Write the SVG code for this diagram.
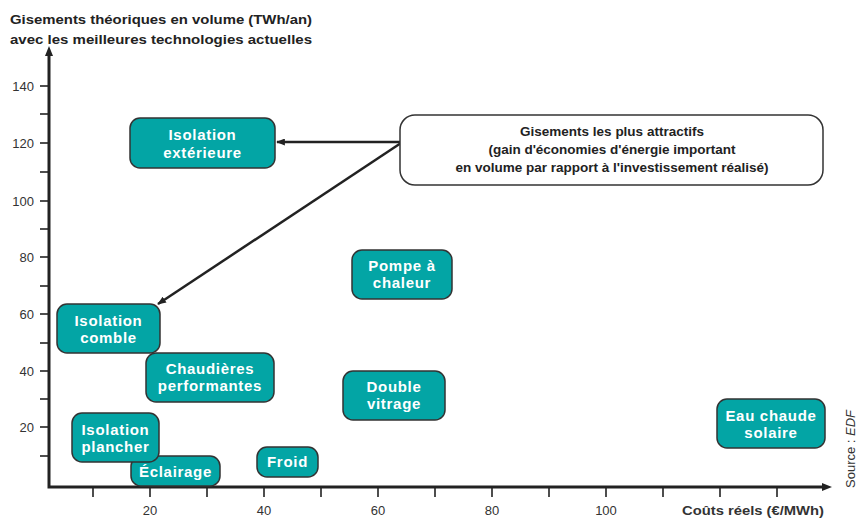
<svg xmlns="http://www.w3.org/2000/svg" width="859" height="518" viewBox="0 0 859 518">
<style>
.title{font-family:"Liberation Sans",Arial,sans-serif;font-weight:bold;font-size:13.5px;fill:#222}
.tick{font-family:"Liberation Sans",Arial,sans-serif;font-size:13px;fill:#333}
.axis{stroke:#222;stroke-width:3;fill:none}
.tk{stroke:#222;stroke-width:1.6}
.node rect{fill:#03A5A5;stroke:#333;stroke-width:1.5}
.node text{font-family:"Liberation Sans",Arial,sans-serif;font-weight:bold;font-size:15px;fill:#fff;text-anchor:middle;letter-spacing:0.7px}
.callout rect{fill:#fff;stroke:#333;stroke-width:1.5}
.callout text{font-family:"Liberation Sans",Arial,sans-serif;font-weight:bold;font-size:13.5px;fill:#222;text-anchor:middle}
.conn{stroke:#222;stroke-width:2.5;fill:none}
</style>
<defs>
<marker id="ah" viewBox="0 0 10 8" refX="9" refY="4" markerWidth="9" markerHeight="7" markerUnits="userSpaceOnUse" orient="auto">
<path d="M0,0 L10,4 L0,8 z" fill="#222"/>
</marker>
</defs>

<g id="title">
<text class="title" x="10" y="24" textLength="302" lengthAdjust="spacingAndGlyphs">Gisements théoriques en volume (TWh/an)</text>
<text class="title" x="10" y="44" textLength="302" lengthAdjust="spacingAndGlyphs">avec les meilleures technologies actuelles</text>
</g>

<g id="axes">
<path class="axis" d="M49,52 L49,487 L824,487"/>
<path d="M49,46 L45,56 L53,56 z" fill="#222"/>
<path d="M832,487 L822,483 L822,491 z" fill="#222"/>
<g class="tk">
<line x1="40" y1="86" x2="49" y2="86"/>
<line x1="40" y1="114" x2="49" y2="114"/>
<line x1="40" y1="143" x2="49" y2="143"/>
<line x1="40" y1="172" x2="49" y2="172"/>
<line x1="40" y1="201" x2="49" y2="201"/>
<line x1="40" y1="229" x2="49" y2="229"/>
<line x1="40" y1="257" x2="49" y2="257"/>
<line x1="40" y1="286" x2="49" y2="286"/>
<line x1="40" y1="314" x2="49" y2="314"/>
<line x1="40" y1="343" x2="49" y2="343"/>
<line x1="40" y1="371" x2="49" y2="371"/>
<line x1="40" y1="399" x2="49" y2="399"/>
<line x1="40" y1="427" x2="49" y2="427"/>
<line x1="40" y1="456" x2="49" y2="456"/>
<line x1="93" y1="487" x2="93" y2="497"/>
<line x1="150" y1="487" x2="150" y2="497"/>
<line x1="207" y1="487" x2="207" y2="497"/>
<line x1="264" y1="487" x2="264" y2="497"/>
<line x1="321" y1="487" x2="321" y2="497"/>
<line x1="378" y1="487" x2="378" y2="497"/>
<line x1="435" y1="487" x2="435" y2="497"/>
<line x1="492" y1="487" x2="492" y2="497"/>
<line x1="549" y1="487" x2="549" y2="497"/>
<line x1="606" y1="487" x2="606" y2="497"/>
<line x1="663" y1="487" x2="663" y2="497"/>
<line x1="720" y1="487" x2="720" y2="497"/>
<line x1="777" y1="487" x2="777" y2="497"/>
</g>
<g class="tick" text-anchor="end">
<text x="34" y="91">140</text>
<text x="34" y="148">120</text>
<text x="34" y="206">100</text>
<text x="34" y="262">80</text>
<text x="34" y="319">60</text>
<text x="34" y="376">40</text>
<text x="34" y="432">20</text>
</g>
<g class="tick" text-anchor="middle">
<text x="150" y="515">20</text>
<text x="264" y="515">40</text>
<text x="378" y="515">60</text>
<text x="492" y="515">80</text>
<text x="606" y="515">100</text>
</g>
<text class="tick" x="682" y="515" font-weight="bold" font-size="13.5" textLength="142" lengthAdjust="spacingAndGlyphs">Coûts réels (€/MWh)</text>
</g>

<g id="connectors">
<line class="conn" x1="401" y1="142" x2="277" y2="142" marker-end="url(#ah)"/>
<line class="conn" x1="401" y1="143" x2="158" y2="304" marker-end="url(#ah)"/>
</g>

<g id="callout" class="callout">
<rect x="400" y="115" width="423" height="70" rx="15"/>
<text x="612" y="136">Gisements les plus attractifs</text>
<text x="612" y="154">(gain d'économies d'énergie important</text>
<text x="612" y="172">en volume par rapport à l'investissement réalisé)</text>
</g>

<g id="isolation-exterieure" class="node">
<rect x="130" y="118" width="145" height="50" rx="10"/>
<text x="202.5" y="140">Isolation</text>
<text x="202.5" y="158">extérieure</text>
</g>
<g id="pompe-a-chaleur" class="node">
<rect x="352" y="250" width="100" height="49" rx="10"/>
<text x="402" y="271">Pompe à</text>
<text x="402" y="288">chaleur</text>
</g>
<g id="isolation-comble" class="node">
<rect x="57" y="304" width="103" height="49" rx="10"/>
<text x="108.5" y="326">Isolation</text>
<text x="108.5" y="343">comble</text>
</g>
<g id="chaudieres-performantes" class="node">
<rect x="146" y="353" width="128" height="49" rx="10"/>
<text x="210" y="374">Chaudières</text>
<text x="210" y="391">performantes</text>
</g>
<g id="double-vitrage" class="node">
<rect x="343" y="371" width="102" height="49" rx="10"/>
<text x="394" y="392">Double</text>
<text x="394" y="409">vitrage</text>
</g>
<g id="eau-chaude-solaire" class="node">
<rect x="717" y="399" width="108" height="49" rx="10"/>
<text x="771" y="421">Eau chaude</text>
<text x="771" y="438">solaire</text>
</g>
<g id="eclairage" class="node">
<rect x="131" y="456" width="89" height="30" rx="10"/>
<text x="175.5" y="477">Éclairage</text>
</g>
<g id="isolation-plancher" class="node">
<rect x="72" y="413" width="87" height="49" rx="10"/>
<text x="115.5" y="435">Isolation</text>
<text x="115.5" y="452">plancher</text>
</g>
<g id="froid" class="node">
<rect x="257" y="447" width="61" height="30" rx="10"/>
<text x="287.5" y="467">Froid</text>
</g>

<text x="855" y="488" transform="rotate(-90 855 488)" font-family="'Liberation Sans',Arial,sans-serif" font-size="13" fill="#333">Source : <tspan font-style="italic">EDF</tspan></text>
</svg>
